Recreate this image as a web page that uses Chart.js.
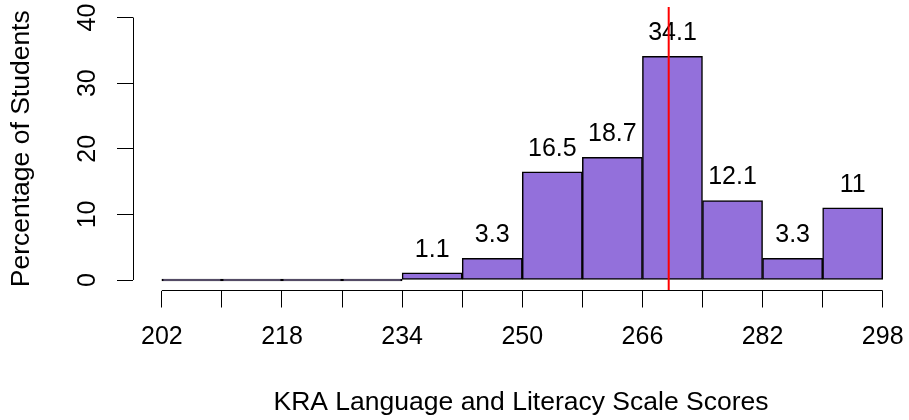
<!DOCTYPE html>
<html>
<head>
<meta charset="utf-8">
<script src="https://cdn.jsdelivr.net/npm/chart.js@4.4.1/dist/chart.umd.min.js"></script>
<style>
    html, body { margin: 0; padding: 0; background: #fff; }
    #wrap { width: 909px; height: 420px; }
</style>
</head>
<body>
<div id="wrap"><canvas id="grafico-kra"></canvas></div>
<script>
// Dados do histograma (percentual de alunos por faixa de pontuação)
const binStarts = [202, 210, 218, 226, 234, 242, 250, 258, 266, 274, 282, 290]
const binWidth = 8
const percents = [0, 0, 0, 0, 1.1, 3.3, 16.5, 18.7, 34.1, 12.1, 3.3, 11]
const xTicks = [202, 210, 218, 226, 234, 242, 250, 258, 266, 274, 282, 290, 298]
const xTickLabels = ['202', '', '218', '', '234', '', '250', '', '266', '', '282', '', '298']
const yTicks = [0, 10, 20, 30, 40]
const cutScore = 269.5

const fonte = "'Liberation Sans', Arial, Helvetica, sans-serif"
const tamanho = 25
const tamanhoTitulo = 26.5

Chart.defaults.color = '#000'
Chart.defaults.font.family = fonte
Chart.defaults.font.size = tamanho

// Linhas dos eixos só entre o primeiro e o último tick (estilo R)
const eixos = {
    id: 'eixos',
    afterDraw(chart) {
        const ctx = chart.ctx
        const x = chart.scales.x
        const y = chart.scales.y
        const area = chart.chartArea
        ctx.save()
        ctx.strokeStyle = '#000'
        ctx.lineWidth = 1
        ctx.beginPath()
        const by = Math.round(area.bottom - 0.5) + 0.5
        ctx.moveTo(x.getPixelForValue(xTicks[0]), by)
        ctx.lineTo(x.getPixelForValue(xTicks[xTicks.length - 1]), by)
        const lx = Math.round(area.left - 0.5) + 0.5
        ctx.moveTo(lx, y.getPixelForValue(yTicks[0]))
        ctx.lineTo(lx, y.getPixelForValue(yTicks[yTicks.length - 1]))
        ctx.stroke()
        ctx.restore()
    }
}

// Rótulos acima das barras + linha vermelha
const rotulos = {
    id: 'rotulos',
    afterDatasetsDraw(chart) {
        const ctx = chart.ctx
        const meta = chart.getDatasetMeta(0)
        ctx.save()
        ctx.font = tamanho + 'px ' + fonte
        ctx.fillStyle = '#000'
        ctx.textAlign = 'center'
        ctx.textBaseline = 'middle'
        meta.data.forEach((bar, i) => {
            if (percents[i] > 0) {
                ctx.fillText(String(percents[i]), bar.x, bar.y - 23)
            }
        })
        const area = chart.chartArea
        const rx = chart.scales.x.getPixelForValue(cutScore)
        ctx.strokeStyle = '#FF0000'
        ctx.lineWidth = 2
        ctx.beginPath()
        ctx.moveTo(rx, area.top)
        ctx.lineTo(rx, area.bottom)
        ctx.stroke()
        ctx.restore()
    }
}

new Chart(document.getElementById('grafico-kra'), {
    type: 'bar',
    data: {
        datasets: [{
            data: binStarts.map((s, i) => ({ x: s + binWidth / 2, y: percents[i] })),
            backgroundColor: '#9370DB',
            borderColor: '#000',
            borderWidth: 1.5,
            borderSkipped: false,
            barPercentage: 1,
            categoryPercentage: 1,
            minBarLength: 2
        }]
    },
    plugins: [eixos, rotulos],
    options: {
        responsive: true,
        maintainAspectRatio: false,
        animation: false,
        layout: { padding: { top: 7, left: 0, right: 0, bottom: 0 } },
        plugins: {
            legend: { display: false },
            tooltip: { enabled: false }
        },
        scales: {
            x: {
                type: 'linear',
                min: 198.16,
                max: 301.5,
                offset: false,
                border: { display: false },
                grid: {
                    offset: false,
                    drawOnChartArea: false,
                    drawTicks: true,
                    tickLength: 17,
                    tickColor: '#000',
                    lineWidth: 1
                },
                afterBuildTicks(scale) {
                    scale.ticks = xTicks.map(v => ({ value: v }))
                },
                ticks: {
                    autoSkip: false,
                    maxRotation: 0,
                    padding: 14.5,
                    callback: (v, i) => xTickLabels[i]
                },
                title: {
                    display: true,
                    text: 'KRA Language and Literacy Scale Scores',
                    font: { size: tamanhoTitulo },
                    padding: { top: 0, bottom: 1 }
                },
                afterFit(scale) {
                    scale.height = 129.5
                    scale.paddingLeft = 0
                    scale.paddingRight = 0
                }
            },
            y: {
                min: -1.6,
                max: 41.6,
                border: { display: false },
                grid: {
                    drawOnChartArea: false,
                    drawTicks: true,
                    tickLength: 16,
                    tickColor: '#000',
                    lineWidth: 1
                },
                afterBuildTicks(scale) {
                    scale.ticks = yTicks.map(v => ({ value: v }))
                },
                ticks: {
                    autoSkip: false,
                    minRotation: 90,
                    maxRotation: 90,
                    crossAlign: 'center',
                    padding: 15
                },
                title: {
                    display: true,
                    text: 'Percentage of Students',
                    font: { size: tamanhoTitulo },
                    padding: { top: 6, bottom: 0 }
                },
                afterFit(scale) {
                    scale.width = 133
                    scale.paddingTop = 0
                    scale.paddingBottom = 0
                }
            }
        }
    }
})
</script>
</body>
</html>
